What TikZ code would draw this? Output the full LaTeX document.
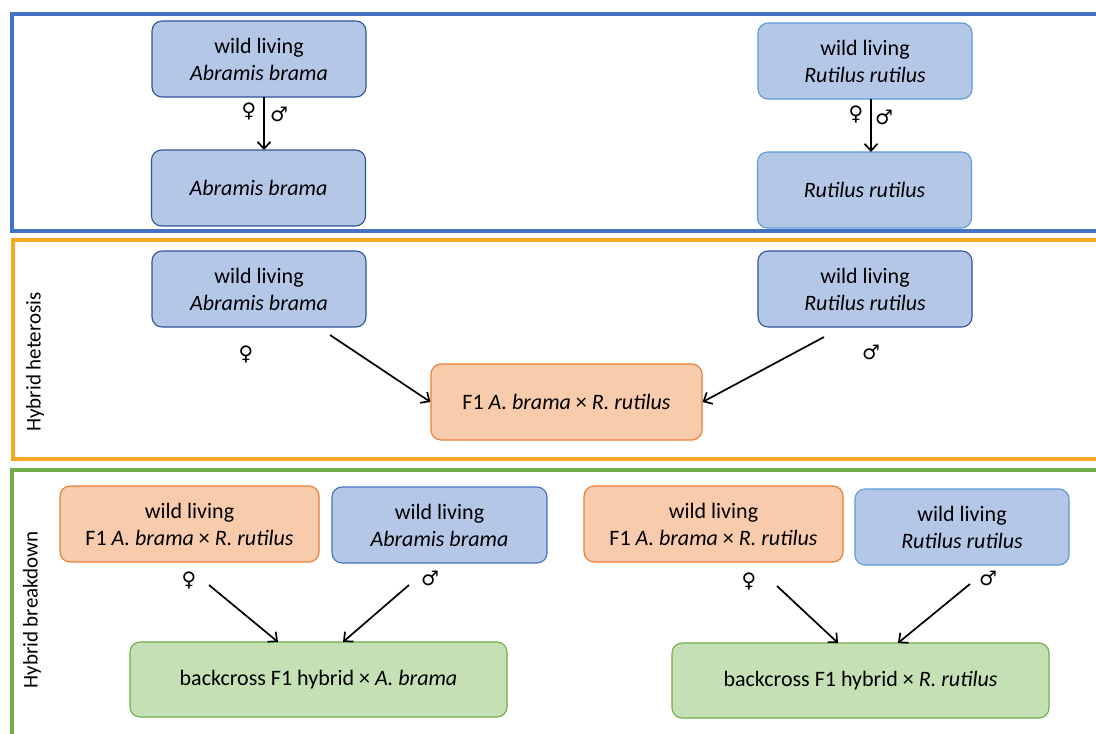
\documentclass[tikz,border=0pt]{standalone}
\usepackage{fontspec}
\setmainfont{Carlito}
\newfontfamily\symfont{DejaVu Sans}
\usetikzlibrary{arrows.meta}
\definecolor{bfill}{HTML}{B4C7E7}
\definecolor{bdark}{HTML}{2F5597}
\definecolor{bmid}{HTML}{4472C4}
\definecolor{blight}{HTML}{5B9BD5}
\definecolor{ofill}{HTML}{F8CBAD}
\definecolor{oline}{HTML}{ED7D31}
\definecolor{gfill}{HTML}{C5E0B4}
\definecolor{gline}{HTML}{70AD47}
\definecolor{pblue}{HTML}{4472C4}
\definecolor{porange}{HTML}{F7A823}
\definecolor{pgreen}{HTML}{70AD47}
\tikzset{
  box/.style={rounded corners=10pt, line width=1.1pt, align=center, inner sep=0pt,
    font=\fontsize{22}{27}\selectfont, minimum height=76pt},
  bluebox/.style={box, fill=bfill, draw=bdark, minimum width=214pt},
  blueboxl/.style={box, fill=bfill, draw=blight, minimum width=214pt},
  orangebox/.style={box, fill=ofill, draw=oline},
  greenbox/.style={box, fill=gfill, draw=gline, minimum width=377pt, minimum height=75pt},
  panel/.style={line width=3.2pt},
  arr/.style={line width=1.7pt, -{Straight Barb[length=7pt,width=13pt,line width=1.7pt]}},
  sym/.style={font=\symfont\fontsize{20}{20}\selectfont, inner sep=0pt},
  lab/.style={font=\fontsize{21}{24}\selectfont, rotate=90, inner sep=0pt}
}
\begin{document}
\begin{tikzpicture}[x=1pt,y=-1pt]
\useasboundingbox (0,0) rectangle (1096,734);
\clip (0,0) rectangle (1096,734);
% panels
\draw[panel, pblue] (1110,14) -- (12,14) -- (12,231) -- (1110,231);
\draw[panel, porange] (1110,240) -- (13,240) -- (13,459) -- (1110,459);
\draw[panel, pgreen] (1110,470) -- (12,470) -- (12,750);
% top panel
\node[bluebox] (tA1) at (259,59) {wild living\\\textit{Abramis brama}};
\node[bluebox] (tA2) at (258.5,188) {\textit{Abramis brama}};
\node[blueboxl] (tR1) at (865,61) {wild living\\\textit{Rutilus rutilus}};
\node[blueboxl] (tR2) at (864.5,190) {\textit{Rutilus rutilus}};
\coordinate (tAs) at (264,97);
\coordinate (tAe) at (264,150);
\coordinate (tRs) at (871,99);
\coordinate (tRe) at (871,152);
\draw[arr] (tAs) -- (tAe);
\draw[arr] (tRs) -- (tRe);
\node[sym] (tAf) at (249,111) {♀};
\node[sym] (tAm) at (279,114) {♂};
\node[sym] (tRf) at (856,114) {♀};
\node[sym] (tRm) at (884,117) {♂};
% heterosis panel
\node[lab] (het) at (35,362) {Hybrid heterosis};
\node[bluebox] (hA) at (259,289) {wild living\\\textit{Abramis brama}};
\node[bluebox] (hR) at (865,289) {wild living\\\textit{Rutilus rutilus}};
\node[orangebox, minimum width=271pt] (hF) at (566.5,402) {F1 \textit{A. brama} × \textit{R. rutilus}};
\coordinate (hAs) at (330,335);
\coordinate (hRs) at (824,337);
\draw[arr] (hAs) -- (hF.west);
\draw[arr] (hRs) -- (hF.east);
\node[sym] (hAf) at (246,354) {♀};
\node[sym] (hRm) at (871,352) {♂};
% breakdown panel
\node[lab] (brk) at (32,610) {Hybrid breakdown};
\node[orangebox, minimum width=259pt] (bF1) at (189.5,524) {wild living\\F1 \textit{A. brama} × \textit{R. rutilus}};
\node[box, fill=bfill, draw=bmid, minimum width=215pt] (bA) at (439.5,525) {wild living\\\textit{Abramis brama}};
\node[orangebox, minimum width=259pt] (bF2) at (713.5,524) {wild living\\F1 \textit{A. brama} × \textit{R. rutilus}};
\node[blueboxl] (bR) at (962,527) {wild living\\\textit{Rutilus rutilus}};
\node[greenbox] (bG1) at (318.5,679.5) {backcross F1 hybrid × \textit{A. brama}};
\node[greenbox] (bG2) at (860.5,680.5) {backcross F1 hybrid × \textit{R. rutilus}};
\coordinate (b1s) at (209,585);
\coordinate (b1e) at (278,642);
\coordinate (b2s) at (409,585);
\coordinate (b2e) at (343,642);
\coordinate (b3s) at (777,586);
\coordinate (b3e) at (838,643);
\coordinate (b4s) at (970,584);
\coordinate (b4e) at (898,643);
\draw[arr] (b1s) -- (b1e);
\draw[arr] (b2s) -- (b2e);
\draw[arr] (b3s) -- (b3e);
\draw[arr] (b4s) -- (b4e);
\node[sym] (bf1) at (189,580) {♀};
\node[sym] (bm1) at (430,578) {♂};
\node[sym] (bf2) at (749,581) {♀};
\node[sym] (bm2) at (988,578) {♂};
\end{tikzpicture}
\end{document}
